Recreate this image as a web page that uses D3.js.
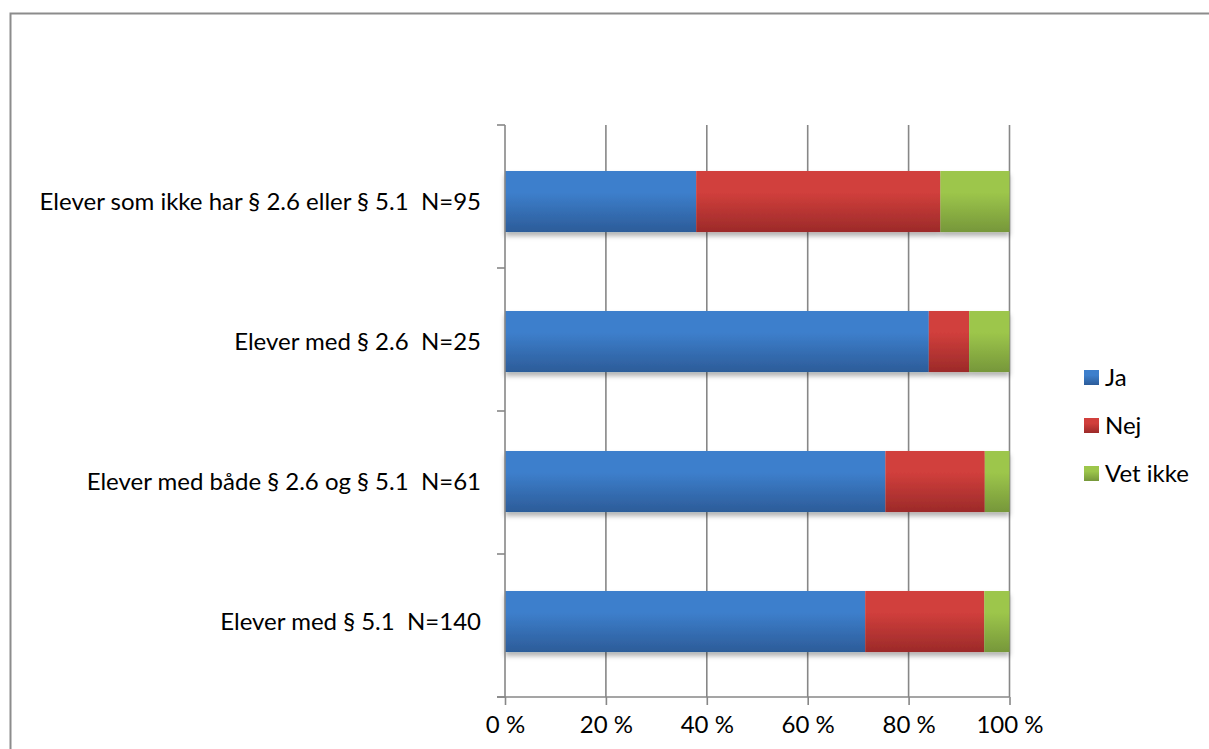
<!DOCTYPE html>
<html>
<head>
<meta charset="utf-8">
<script src="https://cdn.jsdelivr.net/npm/d3@7"></script>
<style>
  html, body { margin: 0; padding: 0; background: #fff; }
  svg { display: block; }
  text { font-family: Lato, "Open Sans", sans-serif; fill: #000; white-space: pre; }
</style>
</head>
<body>
<svg id="chart" width="1209" height="749"></svg>
<script>
const categories = [
  "Elever som ikke har § 2.6 eller § 5.1  N=95",
  "Elever med § 2.6  N=25",
  "Elever med både § 2.6 og § 5.1  N=61",
  "Elever med § 5.1  N=140"
];
const seriesNames = ["Ja", "Nej", "Vet ikke"];
const ja = [37.9, 84.0, 75.4, 71.4];
const nej = [48.4, 8.0, 19.7, 23.6];
const vetIkke = [13.7, 8.0, 4.9, 5.0];
const tickValues = [0, 20, 40, 60, 80, 100];
const tickLabels = ["0 %", "20 %", "40 %", "60 %", "80 %", "100 %"];

const colors = {
  "Ja": ["#3d7fcc", "#2c5c99"],
  "Nej": ["#d13f3c", "#9c2a29"],
  "Vet ikke": ["#9dc64b", "#76973a"]
};

const rows = categories.map((c, i) => ({ cat: c, "Ja": ja[i], "Nej": nej[i], "Vet ikke": vetIkke[i] }));
const stacked = d3.stack().keys(seriesNames)(rows);

const svg = d3.select("#chart");
const defs = svg.append("defs");
seriesNames.forEach((s, i) => {
  const g = defs.append("linearGradient").attr("id", "grad" + i)
    .attr("x1", 0).attr("y1", 0).attr("x2", 0).attr("y2", 1);
  g.append("stop").attr("offset", "0%").attr("stop-color", colors[s][0]);
  g.append("stop").attr("offset", "35%").attr("stop-color", colors[s][0]);
  g.append("stop").attr("offset", "100%").attr("stop-color", colors[s][1]);
});
const f = defs.append("filter").attr("id", "shadow")
  .attr("x", "-5%").attr("y", "-20%").attr("width", "110%").attr("height", "160%");
f.append("feDropShadow").attr("dx", 0).attr("dy", 4).attr("stdDeviation", 2.5)
  .attr("flood-color", "#000").attr("flood-opacity", 0.3);

// outer frame
svg.append("rect").attr("x", 10.5).attr("y", 13.5).attr("width", 1220).attr("height", 760)
  .attr("fill", "#fff").attr("stroke", "#8c8c8c").attr("stroke-width", 2);

const x = d3.scaleLinear().domain([0, 100]).range([505, 1009.5]);
const y = d3.scaleBand().domain(categories).range([131.5, 691.5]).paddingInner(0.564).paddingOuter(0.282);
const yBound = d3.scaleBand().domain(categories).range([125, 697]);
const grey = "#878787";
const fs = 24;

// gridlines
svg.append("g").selectAll("line").data(tickValues.slice(1)).join("line")
  .attr("x1", d => x(d)).attr("x2", d => x(d))
  .attr("y1", 125).attr("y2", 697)
  .attr("stroke", grey).attr("stroke-width", 1.6);

// bars
const layers = svg.append("g").attr("filter", "url(#shadow)");
stacked.forEach((layer, i) => {
  layers.append("g").selectAll("rect").data(layer).join("rect")
    .attr("x", d => x(d[0]))
    .attr("width", d => x(d[1]) - x(d[0]))
    .attr("y", d => y(d.data.cat))
    .attr("height", y.bandwidth())
    .attr("fill", "url(#grad" + i + ")");
});

// y axis line and ticks
svg.append("line").attr("x1", x(0)).attr("x2", x(0)).attr("y1", 125).attr("y2", 697)
  .attr("stroke", grey).attr("stroke-width", 1.6);
const bounds = categories.map(c => yBound(c)).concat([697]);
svg.append("g").selectAll("line").data(bounds).join("line")
  .attr("x1", x(0) - 8).attr("x2", x(0))
  .attr("y1", d => d).attr("y2", d => d)
  .attr("stroke", grey).attr("stroke-width", 1.6);

// x axis
const xAxis = d3.axisBottom(x).tickValues(tickValues)
  .tickFormat((d, i) => tickLabels[i]).tickSize(8).tickPadding(11);
const gx = svg.append("g").attr("transform", "translate(0,697)").call(xAxis);
gx.select(".domain").attr("d", `M${x(0) - 8},0H${x(100)}`).attr("stroke", grey).attr("stroke-width", 1.6);
gx.selectAll(".tick line").attr("stroke", grey).attr("stroke-width", 1.6);
gx.selectAll(".tick text").attr("font-size", fs).attr("font-family", "Lato, 'Open Sans', sans-serif").attr("fill", "#000");

// category labels
svg.append("g").selectAll("text").data(categories).join("text")
  .attr("x", 481)
  .attr("y", d => y(d) + y.bandwidth() / 2)
  .attr("dy", "0.35em")
  .attr("text-anchor", "end")
  .attr("font-size", fs)
  .text(d => d);

// legend
const lg = svg.append("g").attr("transform", "translate(1084,370)");
const li = lg.selectAll("g").data(seriesNames).join("g")
  .attr("transform", (d, i) => `translate(0,${i * 48})`);
li.append("rect").attr("width", 15).attr("height", 15)
  .attr("fill", (d, i) => "url(#grad" + i + ")");
li.append("text").attr("x", 21).attr("y", 8).attr("dy", "0.35em")
  .attr("font-size", fs).text(d => d);
</script>
</body>
</html>
